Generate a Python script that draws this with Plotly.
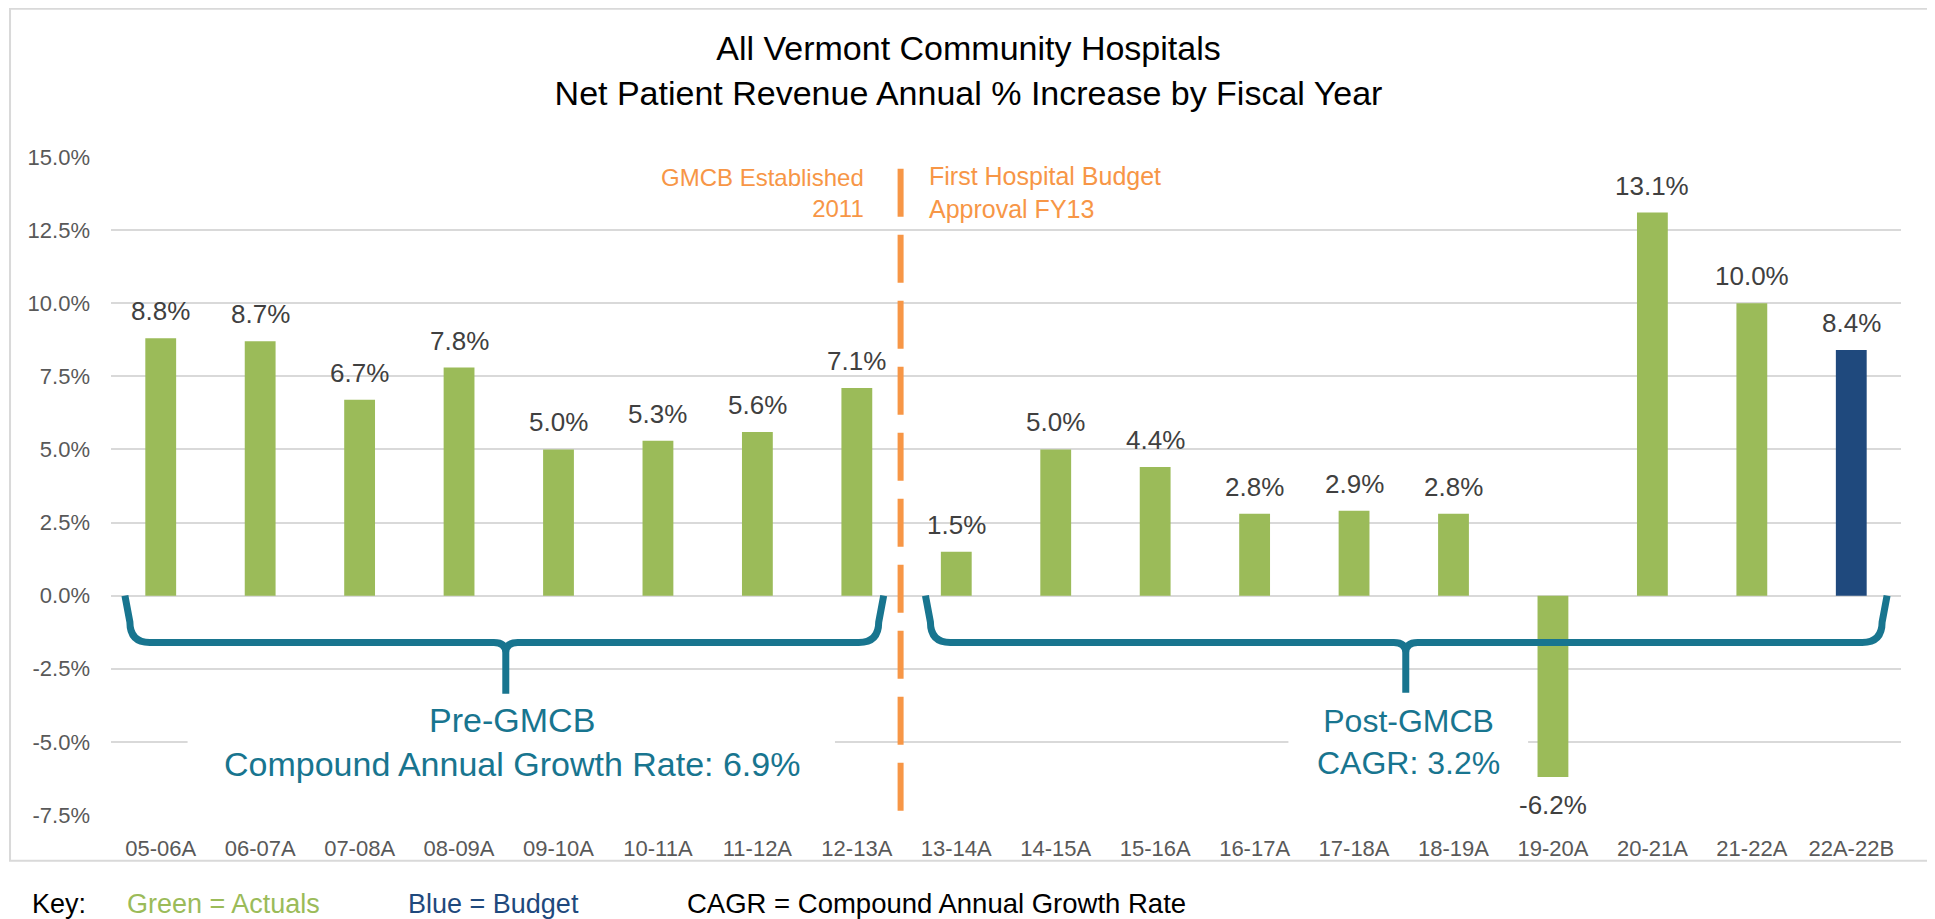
import plotly.graph_objects as go

categories = ["05-06A", "06-07A", "07-08A", "08-09A", "09-10A", "10-11A", "11-12A", "12-13A",
              "13-14A", "14-15A", "15-16A", "16-17A", "17-18A", "18-19A", "19-20A", "20-21A",
              "21-22A", "22A-22B"]
values = [8.8, 8.7, 6.7, 7.8, 5.0, 5.3, 5.6, 7.1,
          1.5, 5.0, 4.4, 2.8, 2.9, 2.8, -6.2, 13.1, 10.0, 8.4]
series_type = ["Actual"] * 17 + ["Budget"]
y_ticks = [-7.5, -5.0, -2.5, 0.0, 2.5, 5.0, 7.5, 10.0, 12.5, 15.0]

GREEN = "#9BBB59"
BLUE = "#1F497D"
TEAL = "#18758F"
ORANGE = "#F79646"
GRID = "#D9D9D9"
FONT = "Liberation Sans, Arial, sans-serif"

# page is shown with an 8px body margin; positions below are figure pixels
OFF = 8
W, H = 1935, 919
L, R, T, B = 111 - OFF, 1901.5 - OFF, 157.3 - OFF, 815.0 - OFF
PW, PH = R - L, B - T

def px_x(p):  # page pixel -> paper x
    return (p - OFF - L) / PW

def px_y(p):  # page pixel -> paper y
    return (B - (p - OFF)) / PH

x_idx = list(range(len(categories)))
colors = [GREEN if t == "Actual" else BLUE for t in series_type]

fig = go.Figure()
fig.add_trace(go.Bar(
    x=x_idx, y=values, width=0.31,
    marker=dict(color=colors, line=dict(width=0)),
    customdata=categories,
    hovertemplate="%{customdata}: %{y:.1f}%<extra></extra>",
    showlegend=False,
))

shapes = []
# white boxes behind CAGR texts (hide gridline)
for x0, x1 in [(0.27, 6.78), (11.34, 13.75)]:
    shapes.append(dict(type="rect", xref="x", yref="y", x0=x0, x1=x1, y0=-4.4, y1=-5.6,
                       fillcolor="white", line=dict(width=0), layer="between"))

# orange dashed divider
shapes.append(dict(type="line", xref="x", yref="y", x0=7.44, x1=7.44, y0=14.6, y1=-7.5,
                   line=dict(color=ORANGE, width=6, dash="48px,18px"), layer="above"))

def brace(xl, xr, xc, ytop=0.0, ymid=-1.6, ytip=-3.35):
    rx, ry = 0.2, 0.7
    nx, ny = 0.12, 0.35
    lean = 0.05
    p = (f"M {xl},{ytop} L {xl+lean},{ymid+ry} Q {xl+lean},{ymid} {xl+lean+rx},{ymid} "
         f"L {xc-nx},{ymid} Q {xc},{ymid} {xc},{ymid-ny} L {xc},{ytip} "
         f"M {xc},{ymid-ny} Q {xc},{ymid} {xc+nx},{ymid} "
         f"L {xr-lean-rx},{ymid} Q {xr-lean},{ymid} {xr-lean},{ymid+ry} L {xr},{ytop}")
    return dict(type="path", xref="x", yref="y", path=p,
                line=dict(color=TEAL, width=7), layer="above")

shapes.append(brace(-0.36, 7.27, 3.47))
shapes.append(brace(7.69, 17.36, 12.52, ytip=-3.32))

# outer border
shapes.append(dict(type="rect", xref="paper", yref="paper",
                   x0=px_x(10), x1=px_x(1930), y0=px_y(860.7), y1=px_y(9),
                   line=dict(color=GRID, width=2), fillcolor="rgba(0,0,0,0)", layer="below"))

annotations = []
# data labels
for i, v in enumerate(values):
    annotations.append(dict(
        x=x_idx[i], y=v, xref="x", yref="y", text=f"{v:.1f}%", showarrow=False,
        yanchor="bottom" if v >= 0 else "top", yshift=10 if v >= 0 else -11,
        font=dict(size=26, color="#404040", family=FONT)))

annotations += [
    dict(text="Pre-GMCB<br>Compound Annual Growth Rate: 6.9%", x=3.53, y=-5.0, xref="x", yref="y",
         showarrow=False, font=dict(size=34, color=TEAL, family=FONT), align="center"),
    dict(text="Post-GMCB<br>CAGR: 3.2%", x=12.55, y=-5.0, xref="x", yref="y",
         showarrow=False, font=dict(size=32, color=TEAL, family=FONT), align="center"),
    dict(text="GMCB Established<br>2011", x=7.09, y=13.77, xref="x", yref="y", xanchor="right",
         showarrow=False, font=dict(size=24, color=ORANGE, family=FONT), align="right"),
    dict(text="First Hospital Budget<br>Approval FY13", x=7.71, y=13.77, xref="x", yref="y",
         xanchor="left", showarrow=False, font=dict(size=25, color=ORANGE, family=FONT), align="left"),
    dict(text="Key:", x=px_x(30), y=px_y(903.5), xref="paper", yref="paper", xanchor="left",
         yanchor="middle", showarrow=False, font=dict(size=27, color="#000000", family=FONT)),
    dict(text="Green = Actuals", x=px_x(125), y=px_y(903.5), xref="paper", yref="paper", xanchor="left",
         yanchor="middle", showarrow=False, font=dict(size=27, color=GREEN, family=FONT)),
    dict(text="Blue = Budget", x=px_x(406), y=px_y(903.5), xref="paper", yref="paper", xanchor="left",
         yanchor="middle", showarrow=False, font=dict(size=27, color=BLUE, family=FONT)),
    dict(text="CAGR = Compound Annual Growth Rate", x=px_x(685), y=px_y(903.5), xref="paper", yref="paper",
         xanchor="left", yanchor="middle", showarrow=False,
         font=dict(size=27.5, color="#000000", family=FONT)),
]

fig.update_layout(
    width=W, height=H,
    margin=dict(l=L, r=W - R, t=T, b=H - B, pad=0),
    paper_bgcolor="white", plot_bgcolor="white",
    title=dict(text="All Vermont Community Hospitals<br>Net Patient Revenue Annual % Increase by Fiscal Year",
               x=(968.5 - OFF) / W, xanchor="center", xref="container",
               y=1 - 52.3 / H, yanchor="top", yref="container",
               font=dict(size=34, color="#000000", family=FONT)),
    xaxis=dict(range=[-0.5, 17.5], tickmode="array", tickvals=x_idx, ticktext=categories,
               showgrid=False, zeroline=False, showline=False, ticks="",
               tickfont=dict(size=22, color="#595959", family=FONT), ticklabelstandoff=18),
    yaxis=dict(range=[-7.5, 15], tickmode="array", tickvals=y_ticks,
               ticktext=[f"{v:.1f}%" for v in y_ticks],
               showgrid=True, gridcolor=GRID, gridwidth=1.5, zeroline=False, showline=False, ticks="",
               tickfont=dict(size=22, color="#595959", family=FONT), ticklabelstandoff=20),
    bargap=0.69,
    shapes=shapes,
    annotations=annotations,
    showlegend=False,
)

fig.write_html("out.html")
